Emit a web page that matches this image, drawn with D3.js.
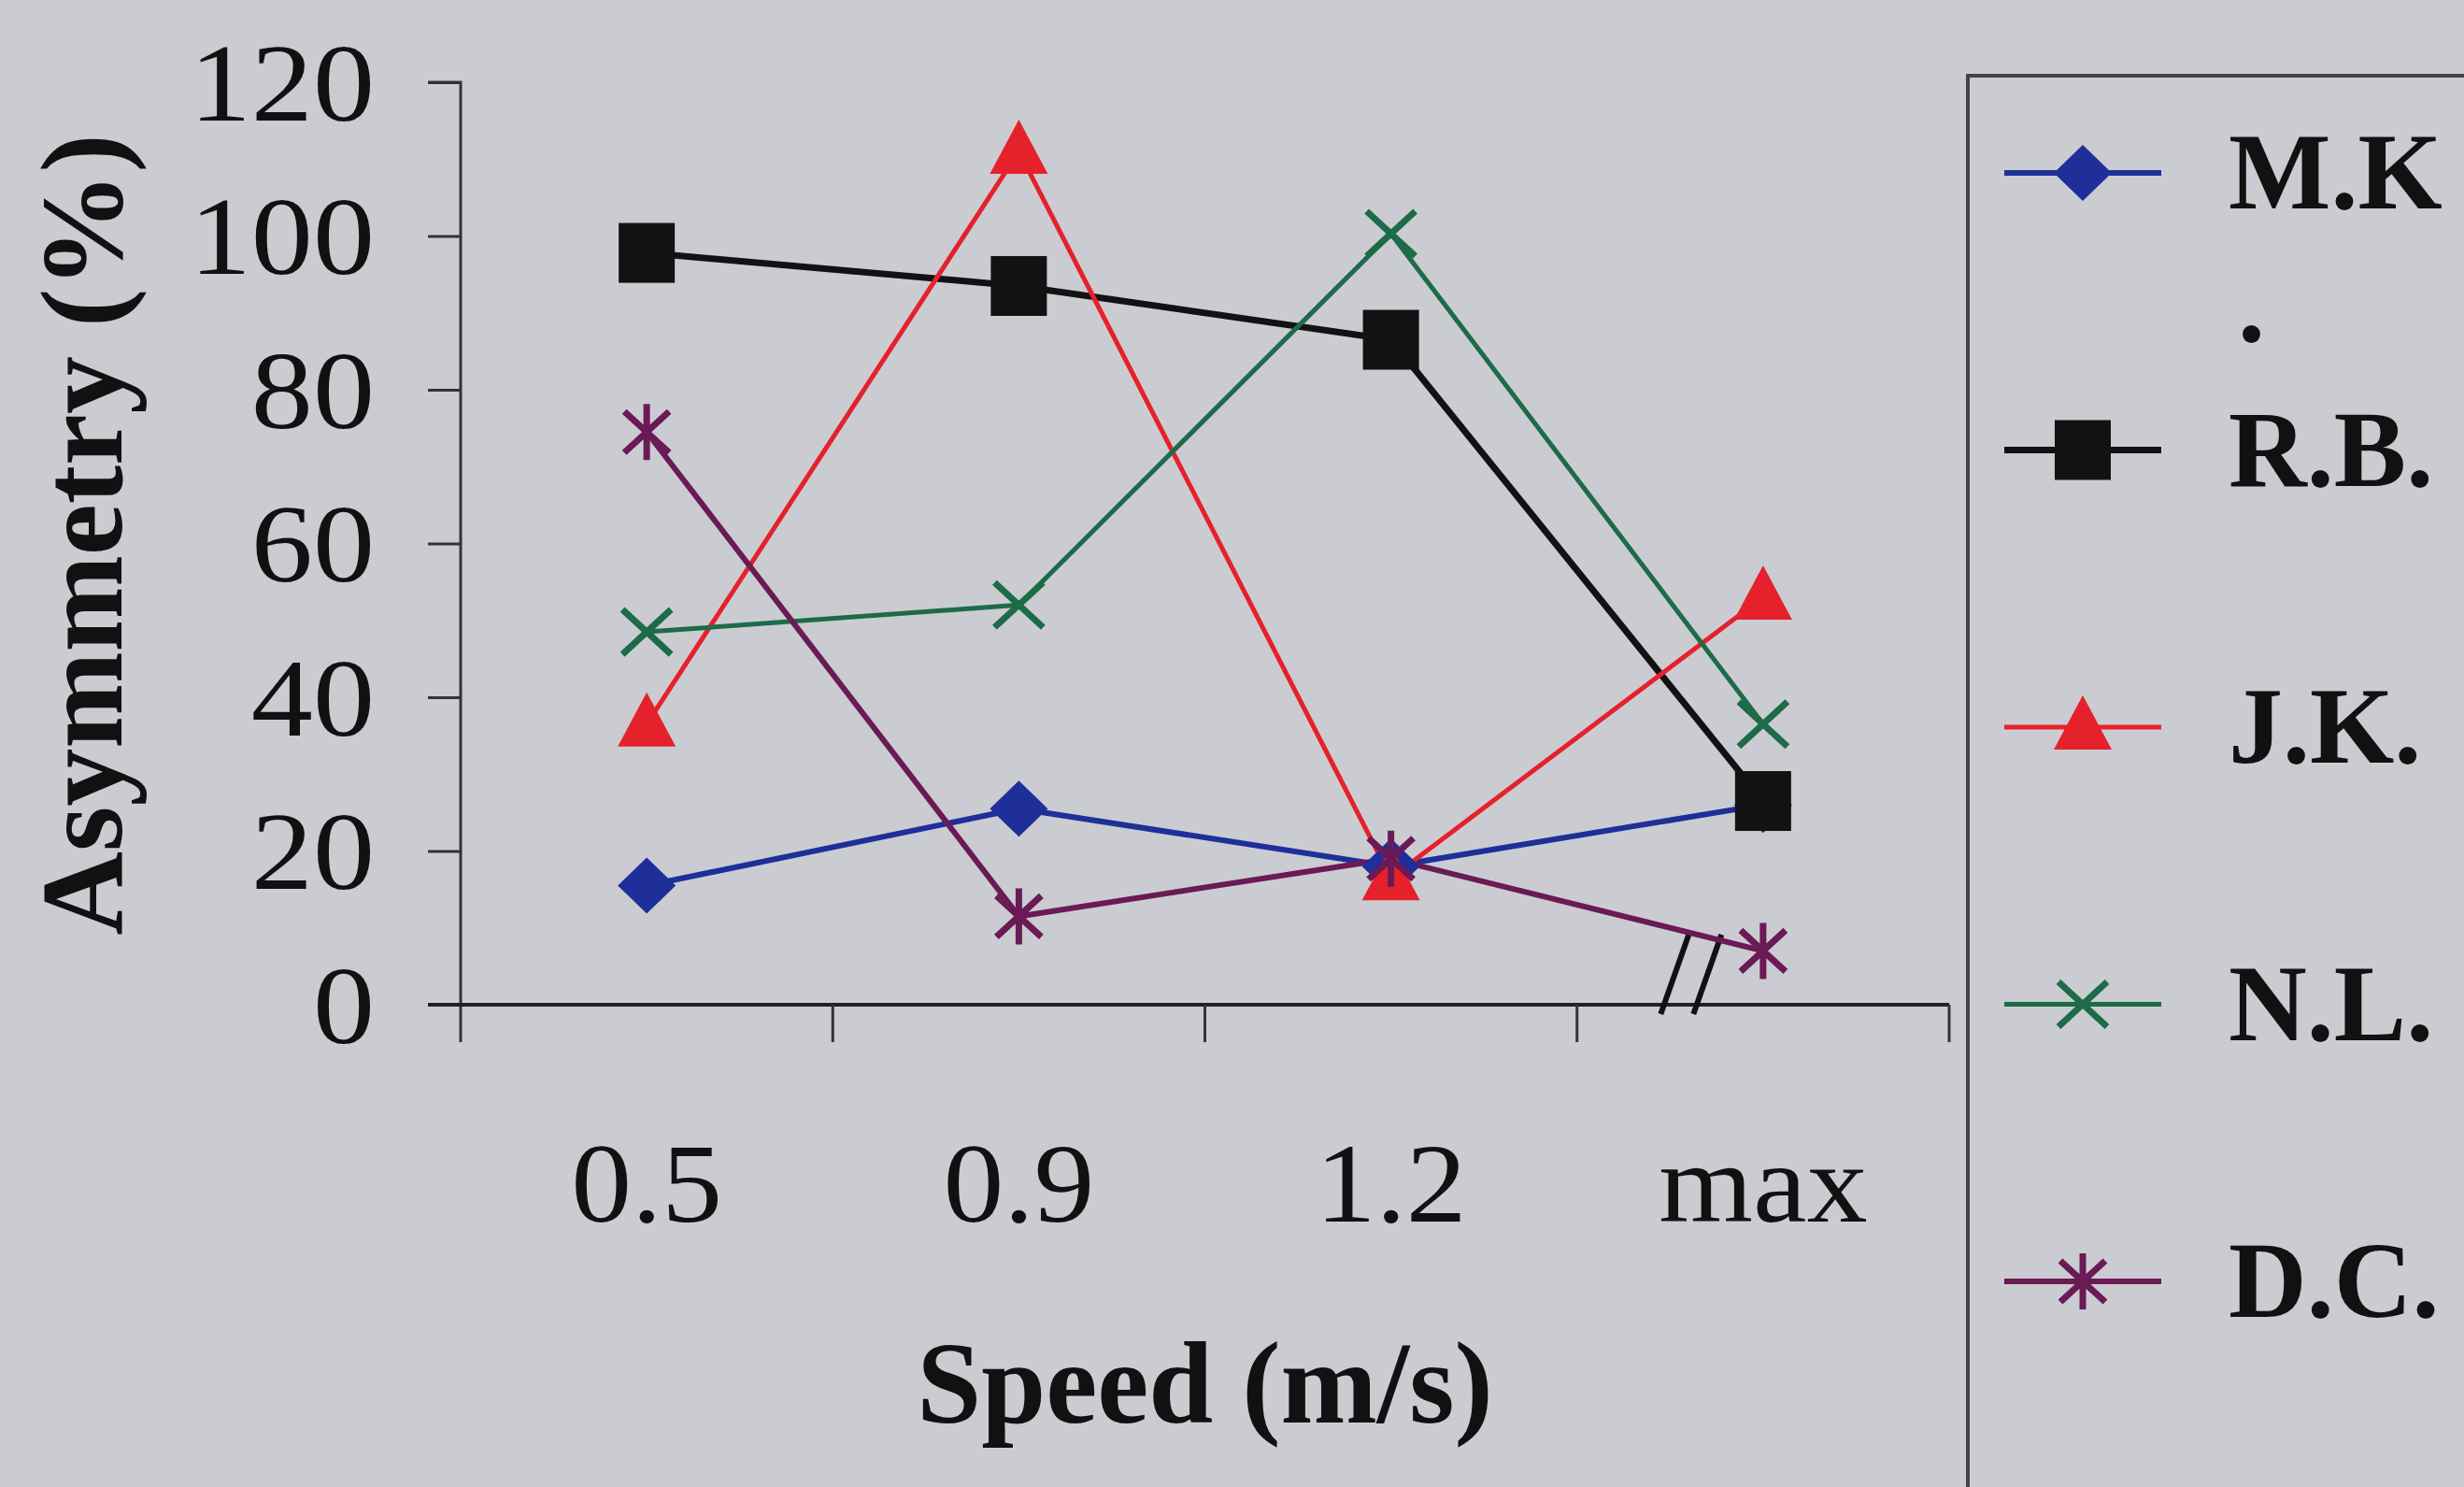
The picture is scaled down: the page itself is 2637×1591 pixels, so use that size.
<!DOCTYPE html>
<html>
<head>
<meta charset="utf-8">
<script src="https://cdnjs.cloudflare.com/ajax/libs/d3/7.8.5/d3.min.js"></script>
<style>
  html, body { margin: 0; padding: 0; background: #cbccd1; }
  svg { display: block; }
</style>
</head>
<body>
<svg id="chart" width="2637" height="1591"></svg>
<script>
// ---- data ----
const categories = ["0.5", "0.9", "1.2", "max"];
const seriesNames = ["M.K", "R.B.", "J.K.", "N.L.", "D.C."];
const mkValues = [15.5, 25.5, 18, 26];
const rbValues = [97.8, 93.5, 86.5, 26.5];
const jkValues = [36.5, 111, 16.5, 53];
const nlValues = [48.5, 52, 100.3, 36.5];
const dcValues = [74.5, 11.5, 19, 7];
const yTicks = [0, 20, 40, 60, 80, 100, 120];
const yTitle = "Asymmetry (%)";
const xTitle = "Speed (m/s)";

const series = [
  { name: "M.K",  values: mkValues, color: "#1f2f9a", width: 6, marker: "diamond" },
  { name: "R.B.", values: rbValues, color: "#121212", width: 7, marker: "square" },
  { name: "J.K.", values: jkValues, color: "#e5212b", width: 5, marker: "triangle" },
  { name: "N.L.", values: nlValues, color: "#1d6b48", width: 5, marker: "x" },
  { name: "D.C.", values: dcValues, color: "#6a1a55", width: 6, marker: "star" }
];

const svg = d3.select("#chart");
const font = "'Liberation Serif', 'Times New Roman', serif";
const textColor = "#111";

const pLeft = 493, pRight = 2086, pTop = 88, pBottom = 1075;

const x = d3.scaleBand().domain(categories).range([pLeft, pRight]).paddingInner(0).paddingOuter(0);
const y = d3.scaleLinear().domain([0, 120]).range([pBottom, pTop]);

// axes
const yAxis = d3.axisLeft(y).tickValues(yTicks).tickSize(35).tickPadding(0);
const gy = svg.append("g").attr("transform", `translate(${pLeft},0)`).call(yAxis);
gy.select(".domain").attr("stroke", "#333").attr("stroke-width", 3).attr("d", `M-35,${pTop}H0V${pBottom + 40}`);
gy.selectAll(".tick line").attr("stroke", "#333").attr("stroke-width", 3);
gy.selectAll(".tick text").attr("font-family", font).attr("font-size", 118).attr("fill", textColor)
  .attr("x", 0).attr("dy", "0.34em").attr("transform", "translate(-92,0) scale(1.12,1)");

const xAxis = d3.axisBottom(x).tickSize(0).tickPadding(0);
const gx = svg.append("g").attr("transform", `translate(0,${pBottom})`).call(xAxis);
gx.select(".domain").attr("stroke", "#222").attr("stroke-width", 4).attr("d", `M${pLeft - 35},0H${pRight}`);
gx.selectAll(".tick line").remove();
gx.selectAll(".tick text").attr("font-family", font).attr("font-size", 120).attr("fill", textColor)
  .attr("y", 232).attr("dy", 0).attr("transform", "scale(1.08,1)");
// category boundary ticks
const bounds = categories.map(c => x(c)).concat([x(categories[categories.length - 1]) + x.bandwidth()]);
svg.append("g").selectAll("line").data(bounds.slice(1)).join("line")
  .attr("x1", d => d).attr("x2", d => d).attr("y1", pBottom).attr("y2", pBottom + 40)
  .attr("stroke", "#333").attr("stroke-width", 3);

// axis break marks
const breakX = x(categories[3]) + x.bandwidth() / 4;
svg.append("g").selectAll("line").data([0, 35]).join("line")
  .attr("x1", d => breakX - 10 + d).attr("y1", pBottom + 10)
  .attr("x2", d => breakX + 20 + d).attr("y2", pBottom - 75)
  .attr("stroke", "#111").attr("stroke-width", 6);

// titles
svg.append("text").attr("font-family", font).attr("font-weight", "bold").attr("font-size", 124)
  .attr("fill", textColor).attr("text-anchor", "middle")
  .attr("transform", `translate(130,572) rotate(-90)`).text(yTitle);
svg.append("text").attr("font-family", font).attr("font-weight", "bold").attr("font-size", 124)
  .attr("fill", textColor).attr("text-anchor", "middle")
  .attr("x", (pLeft + pRight) / 2).attr("y", 1522).text(xTitle);

// marker drawing
function drawMarker(g, type, color, cx, cy) {
  if (type === "diamond") {
    g.append("path").attr("d", `M${cx},${cy - 30}L${cx + 31},${cy}L${cx},${cy + 30}L${cx - 31},${cy}Z`).attr("fill", color);
  } else if (type === "square") {
    g.append("rect").attr("x", cx - 30).attr("y", cy - 32).attr("width", 60).attr("height", 64).attr("fill", color);
  } else if (type === "triangle") {
    g.append("path").attr("d", `M${cx},${cy - 34}L${cx + 31},${cy + 24}L${cx - 31},${cy + 24}Z`).attr("fill", color);
  } else if (type === "x") {
    g.append("path").attr("d", `M${cx - 26},${cy - 24}L${cx + 26},${cy + 24}M${cx - 26},${cy + 24}L${cx + 26},${cy - 24}`)
      .attr("stroke", color).attr("stroke-width", 7).attr("fill", "none");
  } else if (type === "star") {
    g.append("path").attr("d", `M${cx - 24},${cy - 22}L${cx + 24},${cy + 22}M${cx - 24},${cy + 22}L${cx + 24},${cy - 22}M${cx},${cy - 30}L${cx},${cy + 30}`)
      .attr("stroke", color).attr("stroke-width", 7).attr("fill", "none");
  }
}

const line = d3.line().x((d, i) => x(categories[i]) + x.bandwidth() / 2).y(d => y(d));

const plot = svg.append("g");
series.forEach(s => {
  plot.append("path").datum(s.values).attr("d", line).attr("fill", "none")
    .attr("stroke", s.color).attr("stroke-width", s.width).attr("stroke-linejoin", "round");
});
series.forEach(s => {
  const g = plot.append("g");
  s.values.forEach((v, i) => drawMarker(g, s.marker, s.color, x(categories[i]) + x.bandwidth() / 2, y(v)));
});

// legend
svg.append("rect").attr("x", 2106).attr("y", 81).attr("width", 700).attr("height", 1700)
  .attr("fill", "none").attr("stroke", "#444").attr("stroke-width", 4);
const legendY = d3.scalePoint().domain(seriesNames).range([185, 1371]);
series.forEach(s => {
  const cy = legendY(s.name);
  const g = svg.append("g");
  g.append("line").attr("x1", 2145).attr("x2", 2313).attr("y1", cy).attr("y2", cy)
    .attr("stroke", s.color).attr("stroke-width", s.width);
  drawMarker(g, s.marker, s.color, 2229, cy);
  g.append("text").attr("x", 2385).attr("y", cy + 38).attr("font-family", font).attr("font-size", 116)
    .attr("font-weight", "bold").attr("fill", textColor).text(s.name);
});
svg.append("text").attr("x", 2395).attr("y", legendY("M.K") + 180).attr("font-family", font).attr("font-size", 116)
  .attr("font-weight", "bold").attr("fill", textColor).text(".");
</script>
</body>
</html>
